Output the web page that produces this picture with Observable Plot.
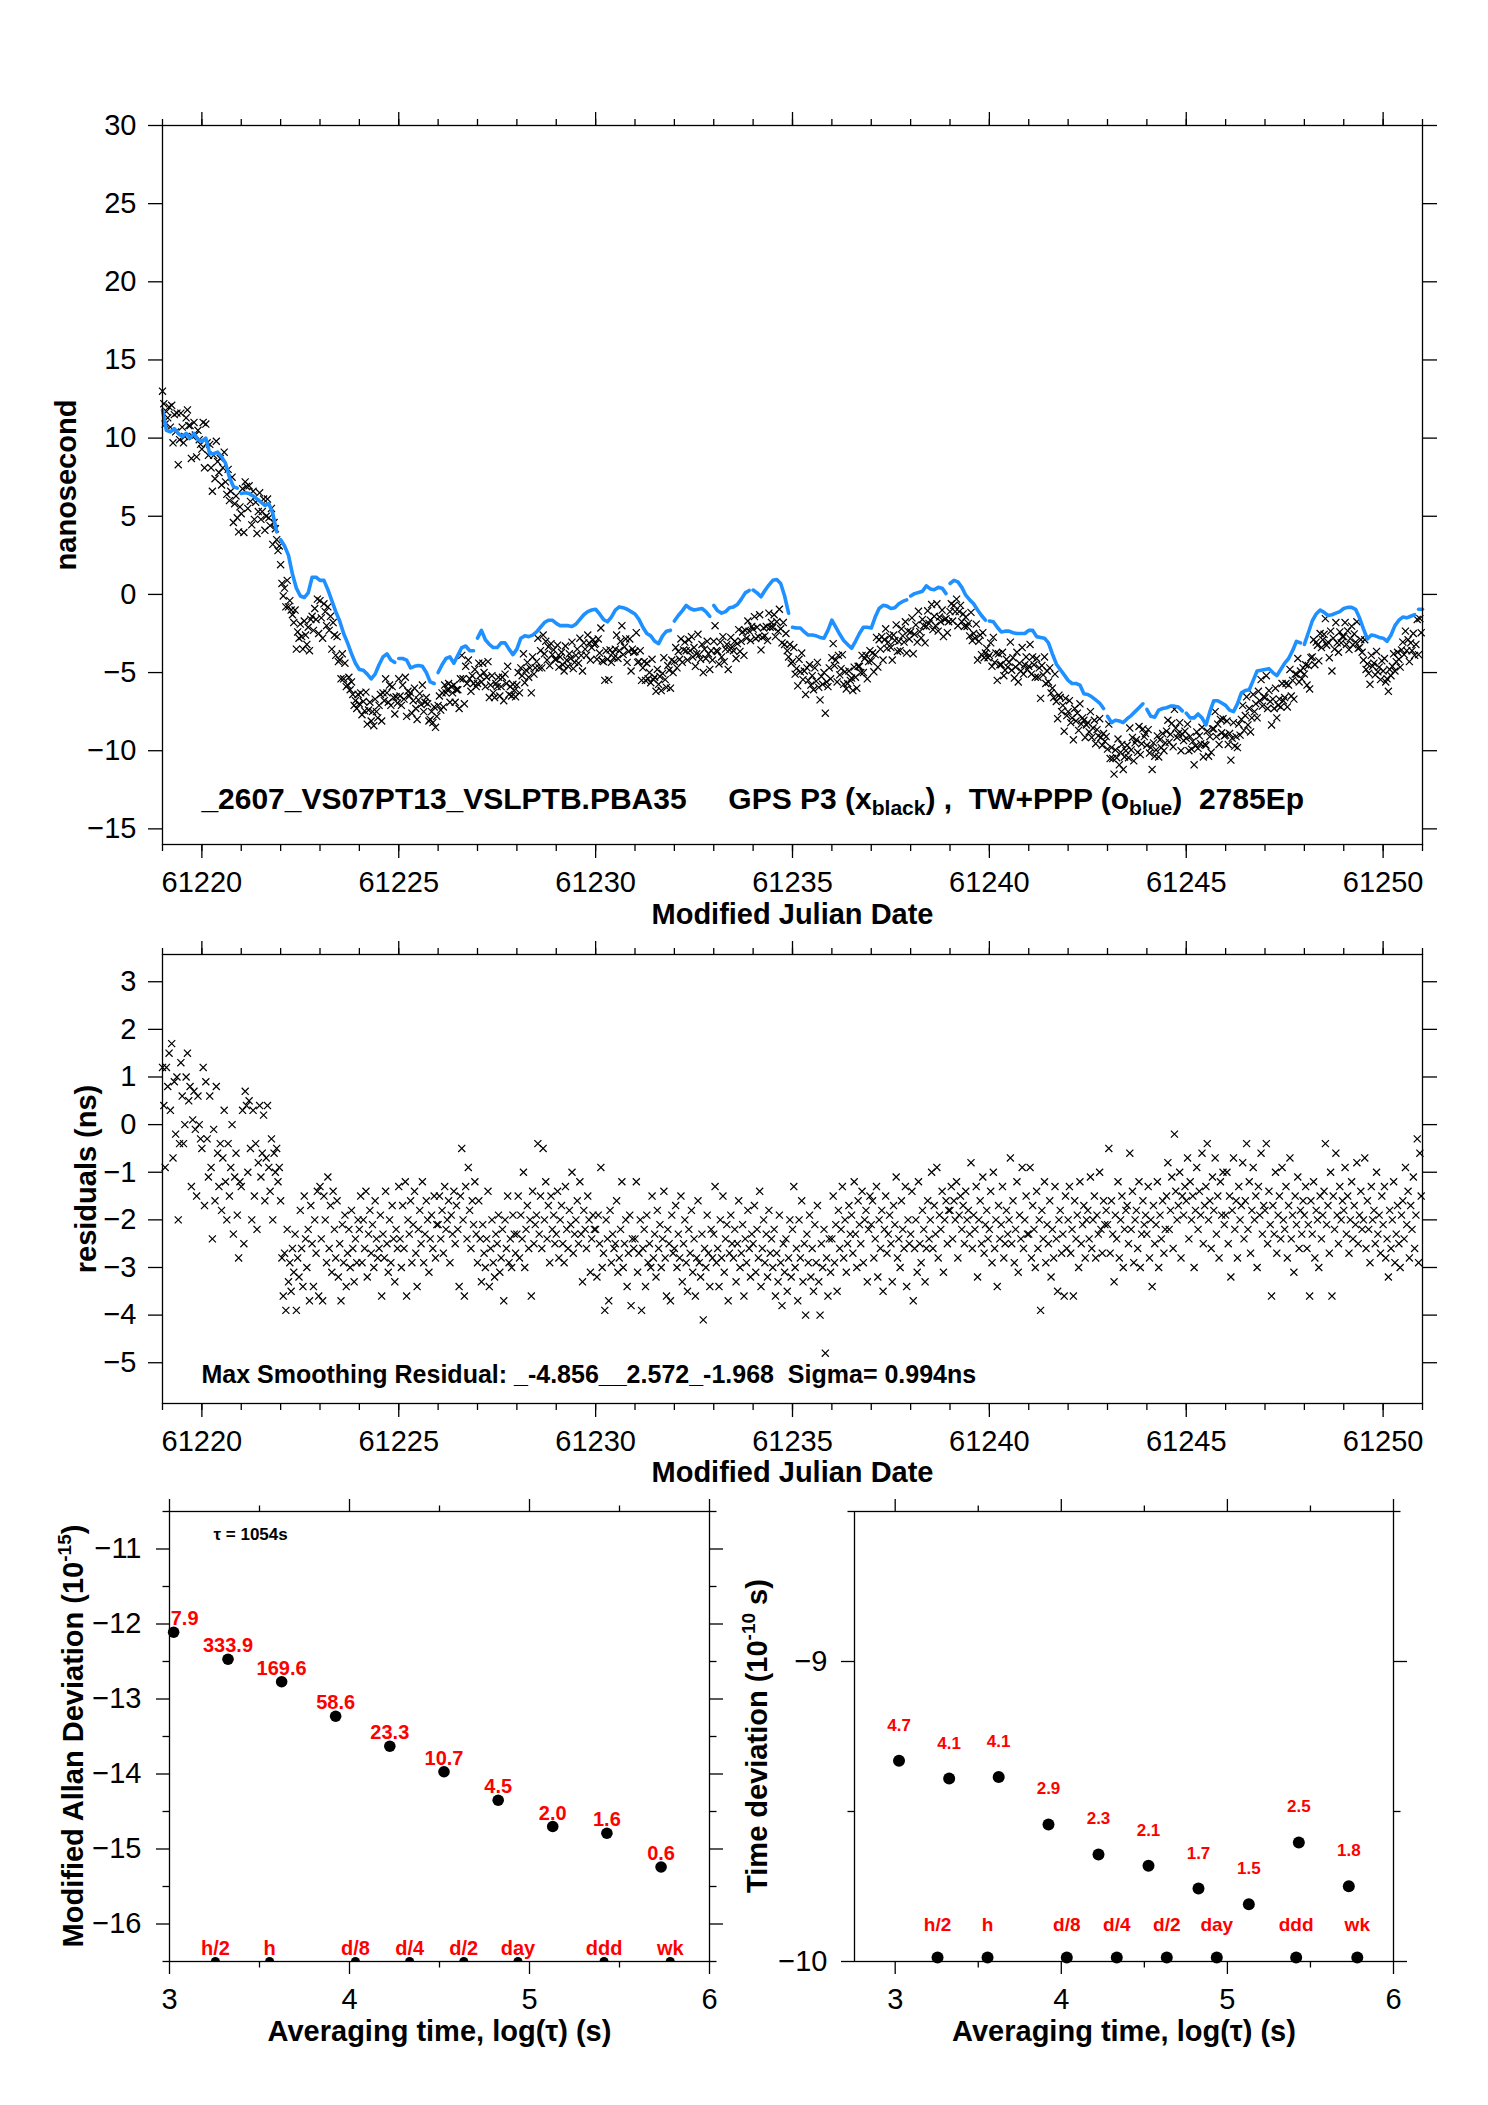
<!DOCTYPE html>
<html><head><meta charset="utf-8">
<script src="https://cdn.jsdelivr.net/npm/d3@7"></script>
<script src="https://cdn.jsdelivr.net/npm/@observablehq/plot@0.6"></script>
<style>
html,body{margin:0;padding:0;background:#fff;}
#page{position:relative;width:1488px;height:2105px;background:#fff;overflow:hidden;}
#page svg{position:absolute;}
</style></head><body><div id="page"></div>
<script>
// ---------------- DATA ----------------
const mjdStart = 61219;
const blueStep = 0.1; // TW+PPP sampled every 0.1 day
const blueNs = [
 11.8, 10.5, 10.4, 10.6, 10.3, 10.1, 10.3, 10.0, 10.3, 9.9,
 9.8, 10.0, 9.0, 9.0, 9.1, 8.8, 8.4, 7.5, 6.9, 6.8,
 6.46, 6.5, 6.45, 6.3, 6.1, 5.9, 5.7, 5.8, 5.2, 4.0,
 3.5, 3.1, 2.5, 1.3, 0.4, -0.1, -0.2, 0.1, 1.1, 1.1,
 0.9, 0.9, 0.3, -0.4, -1.1, -1.7, -2.5, -3.1, -3.8, -4.4,
 -4.8, -4.85, -5.1, -5.4, -5.1, -4.5, -4.0, -3.8, -4.2, -4.35,
 -4.1, -4.1, -4.2, -4.7, -4.6, -4.55, -4.6, -5.0, -5.6, -5.7,
 -5.0, -4.5, -4.1, -4.0, -4.4, -3.9, -3.4, -3.3, -3.6, -3.6,
 -2.8, -2.3, -2.9, -3.2, -3.4, -3.4, -3.1, -3.1, -3.5, -3.85,
 -3.5, -2.8, -2.65, -2.7, -2.6, -2.4, -2.1, -1.8, -1.65, -1.65,
 -1.85, -2.0, -2.0, -2.0, -2.05, -1.9, -1.6, -1.3, -1.1, -1.0,
 -0.95, -1.25, -1.6, -1.75, -1.45, -1.0, -0.8, -0.85, -0.95, -1.1,
 -1.25, -1.6, -2.1, -2.5, -2.65, -3.0, -3.15, -2.65, -2.35, -2.3,
 -1.7, -1.35, -1.05, -0.7, -0.9, -1.0, -0.95, -0.9, -1.1, -1.4,
 -0.7, -1.05, -1.2, -1.1, -0.85, -0.8, -0.65, -0.3, 0.1, 0.25,
 0.28, 0.1, -0.15, 0.25, 0.6, 0.9, 0.95, 0.7, -0.1, -1.2,
 -2.1, -2.15, -2.15, -2.4, -2.6, -2.6, -2.65, -2.75, -2.8, -2.3,
 -1.65, -2.1, -2.55, -2.95, -3.2, -3.45, -3.0, -2.5, -2.1, -2.1,
 -2.15, -1.45, -0.9, -0.7, -0.75, -0.9, -0.85, -0.6, -0.45, -0.35,
 -0.1, 0.05, 0.12, 0.2, 0.55, 0.35, 0.3, 0.45, 0.4, 0.05,
 0.7, 0.9, 0.8, 0.45, -0.05, -0.35, -0.6, -1.0, -1.35, -1.65,
 -1.7, -1.75, -2.1, -2.4, -2.35, -2.35, -2.45, -2.5, -2.5, -2.5,
 -2.3, -2.3, -2.7, -2.75, -2.8, -3.1, -3.8, -4.45, -4.8, -5.15,
 -5.5, -5.7, -5.7, -5.8, -6.35, -6.4, -6.55, -6.75, -6.95, -7.3,
 -7.8, -8.2, -8.05, -8.1, -8.2, -7.95, -7.75, -7.5, -7.25, -7.0,
 -7.35, -7.8, -7.85, -7.4, -7.3, -7.25, -7.15, -7.15, -7.2, -7.45,
 -7.6, -7.9, -7.9, -7.65, -7.9, -8.35, -7.5, -6.8, -6.8, -6.95,
 -7.1, -7.4, -7.5, -7.0, -6.3, -6.15, -6.1, -5.5, -4.9, -4.85,
 -4.8, -4.75, -5.0, -5.2, -4.8, -4.4, -4.1, -3.6, -3.0, -3.1,
 -3.2, -2.45, -1.7, -1.25, -1.0, -1.15, -1.35, -1.3, -1.2, -1.1,
 -0.9, -0.83, -0.83, -0.95, -1.5, -2.2, -2.85, -2.6, -2.65, -2.75,
 -2.8, -3.0, -2.6, -2.0, -1.65, -1.45, -1.5, -1.4, -1.3, -0.95,
 -0.95
];
// MJD where a new TW+PPP segment starts (gaps in the blue trace)
const blueBreaks = [61221, 61222, 61225, 61226, 61227, 61232, 61233, 61234, 61235,
  61238, 61239, 61240, 61243, 61244, 61245, 61248, 61250.9];

// residuals GPS P3 - TW+PPP (ns), 30 per day from MJD 61219
const residNs = [
 1.2,0.4,-0.9,1.2,0.8,1.5,0.3,1.7,-0.7,0.9,-0.2,1.0,-2.0,-0.4,1.3, 0.6,-0.4,0.0,1.0,1.5,0.5,0.8,-1.3,0.1,0.7,-0.1,-1.5,0.6,0.0,-0.3,
 -0.5,1.2,-1.7,0.9,-0.3,-1.1,0.6,-0.9,-2.4,-0.1,-1.6,0.8,-0.6,-1.3,-0.4, -1.8,-0.7,0.3,-1.2,-2.0,-0.4,-1.5,-0.9,0.0,-2.3,-1.1,-0.6,-1.9,-2.8,-1.2,
 -1.3,0.3,-2.5,0.7,0.4,-1.0,0.5,-0.5,-2.0,0.3,-1.5,-0.4,-2.2,-0.8,0.4, -1.1,-0.6,0.2,-1.6,-0.7,0.4,-0.9,-1.4,-0.3,-2.0,-0.6,-1.0,-0.5,-1.2,-0.9,
 -1.6,-2.8,-3.6,-2.7,-3.9,-2.2,-3.3,-2.9,-3.5,-2.6,-3.1,-2.3,-3.9,-2.8,-3.2, -1.8,-2.6,-3.4,-1.5,-2.4,-3.0,-2.2,-3.7,-1.7,-2.5,-3.4,-2.0,-2.7,-1.4,-3.6,
 -1.3,-2.4,-3.7,-1.5,-2.0,-2.9,-1.1,-2.6,-1.7,-3.1,-1.4,-2.2,-2.8,-1.6,-3.2, -2.5,-3.7,-2.1,-2.9,-1.9,-3.4,-2.7,-2.2,-3.0,-1.8,-2.6,-3.3,-2.4,-2.9,-2.0,
 -2.2,-1.5,-2.9,-2.0,-2.6,-1.4,-3.2,-2.3,-1.8,-2.7,-2.1,-3.0,-1.6,-2.4,-2.8, -2.6,-1.9,-3.6,-2.3,-2.8,-1.4,-2.5,-3.1,-2.0,-2.9,-1.7,-2.4,-3.3,-2.2,-2.6,
 -1.3,-2.4,-3.0,-1.7,-2.6,-1.2,-3.6,-2.0,-2.3,-1.6,-2.9,-2.1,-1.4,-2.7,-3.4, -2.2,-1.8,-2.5,-1.2,-2.9,-2.3,-1.6,-2.0,-3.1,-2.4,-1.9,-2.6,-1.5,-2.8,-2.1,
 -2.1,-1.5,-2.4,-1.8,-2.7,-1.3,-2.2,-2.0,-1.6,-2.9,-1.9,-2.3,-1.4,-2.5,-1.7, -2.2,-3.4,-1.5,-0.5,-2.0,-3.6,-1.3,-2.4,-0.9,-1.8,-2.6,-1.6,-2.1,-1.2,-2.3,
 -2.9,-1.6,-2.4,-3.3,-2.1,-2.7,-3.0,-2.4,-1.4,-3.4,-2.6,-2.0,-2.9,-3.2,-2.3, -2.5,-1.9,-3.1,-2.8,-2.2,-3.7,-2.0,-2.6,-1.5,-2.9,-2.4,-3.0,-1.9,-2.3,-2.7,
 -2.3,-1.5,-2.8,-1.9,-2.4,-1.0,-3.0,-2.2,-1.7,-2.6,-2.0,-3.6,-1.4,-2.5,-2.1, -1.9,-0.4,-2.3,-1.5,-2.6,-0.5,-2.0,-1.2,-2.4,-1.7,-2.9,-1.5,-2.2,-1.9,-2.5,
 -2.3,-1.4,-2.8,-2.0,-1.7,-2.5,-2.9,-1.3,-2.2,-2.6,-1.8,-2.1,-1.0,-2.7,-2.3, -2.0,-1.6,-2.5,-1.2,-2.3,-3.3,-1.8,-2.2,-2.6,-1.5,-2.0,-3.1,-2.4,-1.9,-2.2,
 -2.2,-3.2,-1.9,-2.5,-0.9,-3.0,-2.7,-3.9,-2.0,-2.4,-3.7,-1.8,-2.9,-2.3,-2.6, -2.5,-1.6,-3.1,-2.8,-2.2,-1.2,-3.0,-2.5,-2.0,-3.4,-2.7,-1.9,-3.8,-2.4,-2.6,
 -2.4,-1.2,-3.1,-2.7,-2.0,-3.9,-2.6,-2.2,-3.4,-1.9,-2.9,-2.5,-3.0,-1.5,-2.8, -2.3,-3.2,-1.8,-2.6,-2.1,-3.0,-2.4,-1.4,-2.8,-3.6,-2.2,-2.5,-3.7,-1.9,-2.7,
 -2.6,-1.7,-3.0,-2.3,-2.8,-1.5,-3.3,-2.5,-2.0,-2.9,-3.5,-2.2,-2.7,-1.8,-3.1, -2.4,-3.6,-2.8,-1.6,-2.9,-3.2,-2.3,-4.1,-2.6,-3.0,-1.9,-2.7,-3.4,-2.2,-2.8,
 -2.3,-1.3,-2.9,-2.6,-3.4,-2.0,-2.8,-1.5,-3.1,-2.4,-2.1,-3.7,-2.7,-1.9,-2.5, -2.8,-2.2,-3.3,-2.5,-1.6,-3.0,-2.7,-2.1,-3.6,-2.4,-2.9,-1.8,-2.6,-3.2,-2.3,
 -2.5,-1.7,-3.1,-2.2,-2.8,-1.4,-3.4,-2.6,-2.0,-2.9,-2.3,-3.2,-1.8,-2.7,-2.4, -3.0,-2.2,-3.6,-2.7,-3.3,-1.9,-2.9,-3.8,-2.5,-3.1,-2.4,-3.5,-2.8,-2.0,-3.2,
 -2.2,-1.3,-3.0,-2.6,-3.7,-2.0,-2.8,-1.6,-3.3,-2.5,-4.0,-2.3,-2.9,-1.9,-3.2, -2.6,-3.5,-2.1,-2.9,-1.7,-3.3,-4.0,-2.5,-3.0,-2.2,-4.8,-2.8,-3.6,-2.4,-3.1,
 -2.4,-1.5,-2.9,-2.1,-3.5,-1.8,-2.6,-2.2,-1.3,-2.8,-2.0,-3.1,-2.5,-1.7,-2.3, -1.9,-2.7,-1.2,-2.3,-3.0,-1.6,-2.1,-2.5,-1.4,-2.9,-2.0,-1.8,-3.3,-2.2,-1.5,
 -2.1,-1.6,-2.8,-2.4,-1.3,-3.2,-2.0,-2.6,-1.8,-3.5,-2.2,-1.5,-2.7,-2.3,-1.9, -2.5,-3.3,-1.7,-2.1,-1.1,-2.8,-2.4,-3.0,-1.6,-2.2,-2.6,-1.3,-3.4,-2.0,-2.5,
 -2.3,-1.4,-3.7,-2.6,-2.0,-3.1,-1.2,-2.5,-2.9,-1.8,-2.2,-3.3,-2.6,-1.6,-2.4, -2.0,-1.0,-2.6,-1.7,-2.3,-0.9,-2.8,-1.9,-2.2,-1.4,-3.1,-2.0,-1.6,-2.5,-1.8,
 -1.8,-1.3,-2.4,-1.6,-2.0,-1.2,-2.8,-1.9,-1.5,-2.2,-1.7,-2.5,-1.4,-2.0,-1.8, -2.3,-0.8,-2.6,-1.9,-2.2,-1.3,-3.2,-2.0,-1.6,-2.5,-1.1,-2.7,-2.1,-1.8,-2.4,
 -2.2,-1.4,-2.9,-1.0,-2.6,-2.0,-3.4,-1.7,-2.4,-2.1,-1.3,-2.8,-2.5,-1.8,-2.3, -2.0,-0.7,-2.5,-1.6,-2.9,-2.2,-1.2,-3.1,-1.9,-2.4,-0.9,-2.6,-2.0,-1.5,-2.3,
 -2.3,-0.9,-2.8,-1.7,-2.2,-3.0,-1.4,-2.6,-2.0,-3.9,-1.8,-2.4,-1.2,-2.9,-2.1, -2.5,-1.6,-3.2,-2.2,-2.8,-1.3,-2.4,-3.5,-2.0,-1.8,-2.7,-2.3,-3.6,-1.5,-2.6,
 -2.0,-1.3,-2.7,-2.2,-3.6,-1.6,-2.4,-1.9,-3.0,-1.2,-2.5,-2.1,-1.7,-2.8,-2.0, -1.8,-2.4,-1.1,-2.6,-2.0,-1.5,-2.8,-1.9,-2.3,-1.0,-2.2,-2.7,-1.6,-2.1,-1.8,
 -2.1,-0.5,-2.7,-1.6,-2.3,-3.3,-1.9,-2.4,-1.2,-2.8,-2.0,-1.5,-3.0,-2.2,-1.8, -1.7,-2.5,-0.6,-2.2,-1.4,-2.9,-2.0,-1.8,-2.6,-1.2,-3.0,-2.3,-1.6,-2.1,-1.9,
 -2.3,-1.3,-2.8,-2.0,-3.4,-1.7,-2.5,-2.1,-1.2,-3.0,-1.9,-2.4,-1.6,-2.7,-2.2, -1.5,-0.8,-2.2,-1.8,-1.1,-2.6,-0.2,-1.4,-2.0,-1.7,-1.0,-2.8,-1.5,-1.9,-1.3,
 -1.6,-0.7,-2.4,-1.2,-2.0,-1.5,-3.0,-1.8,-0.9,-2.2,-1.4,-1.9,-0.6,-2.5,-1.7, -1.3,-0.4,-2.0,-1.6,-2.6,-1.1,-1.8,-0.7,-2.3,-1.5,-2.8,-1.2,-1.9,-1.0,-2.1,
 -1.9,-1.0,-2.5,-1.5,-3.2,-1.8,-0.7,-2.2,-1.6,-2.8,-1.3,-2.0,-1.7,-0.8,-2.4, -1.6,-0.4,-2.2,-1.2,-2.7,-1.8,-0.9,-2.0,-1.5,-3.0,-1.3,-1.9,-0.6,-2.3,-1.7,
 -1.8,-0.4,-2.5,-1.4,-2.1,-3.6,-1.7,-2.3,-1.0,-2.7,-1.9,-1.5,-2.4,-0.9,-2.0, -2.2,-1.3,-2.8,-1.7,-0.7,-2.4,-1.9,-3.1,-1.5,-2.1,-1.1,-2.6,-1.8,-2.3,-1.6,
 -1.9,-1.3,-2.6,-2.1,-3.6,-1.6,-2.3,-1.2,-2.8,-1.8,-2.0,-3.0,-1.5,-2.4,-1.9, -1.4,-0.4,-2.1,-1.7,-2.7,-1.0,-3.6,-1.5,-2.2,-0.6,-1.9,-2.5,-1.3,-2.0,-1.6,
 -1.8,-0.9,-2.3,-1.5,-2.7,-2.0,-1.2,-2.4,-1.7,-2.1,-0.8,-2.5,-1.9,-1.4,-2.2, -2.0,-0.7,-2.6,-1.6,-2.2,-2.9,-1.3,-2.0,-1.8,-2.5,-1.0,-2.3,-1.9,-2.7,-1.5,
 -2.1,-1.3,-2.8,-2.4,-3.2,-1.8,-2.6,-2.0,-1.2,-2.9,-2.3,-1.7,-2.5,-3.0,-1.9, -1.6,-2.4,-0.9,-2.1,-1.4,-2.8,-1.7,-2.2,-1.1,-2.6,-1.9,-0.3,-2.9,-0.6,-1.5
];
const residPerDay = 30;

const mjdMajorTicks = [61220, 61225, 61230, 61235, 61240, 61245, 61250];
const mjdMinorTicks = d3.range(61219, 61252);
const nsTicks = [-15, -10, -5, 0, 5, 10, 15, 20, 25, 30];
const residTicks = [-5, -4, -3, -2, -1, 0, 1, 2, 3];

// stability (log10 tau)
const logTau = [3.023, 3.325, 3.623, 3.923, 4.224, 4.525, 4.826, 5.129, 5.430, 5.731];
const mdevLog = [-12.11, -12.47, -12.77, -13.23, -13.63, -13.97, -14.35, -14.70, -14.79, -15.24];
const mdevLabels = ["7.9", "333.9", "169.6", "58.6", "23.3", "10.7", "4.5", "2.0", "1.6", "0.6"];
const tdevLog = [-9.331, -9.390, -9.385, -9.543, -9.643, -9.681, -9.757, -9.809, -9.603, -9.749];
const tdevLabels = ["4.7", "4.1", "4.1", "2.9", "2.3", "2.1", "1.7", "1.5", "2.5", "1.8"];
const tauNames = ["h/2", "h", "d/8", "d/4", "d/2", "day", "ddd", "wk"];
const tauNameLog = [3.255, 3.556, 4.033, 4.334, 4.635, 4.936, 5.414, 5.782];

// ---------------- TABLES ----------------
const blueRows = blueNs.map((v, i) => {
  const t = Math.round((mjdStart + i * blueStep) * 10) / 10;
  return {t, v, seg: blueBreaks.filter(b => b <= t + 1e-9).length};
});
const gpsRows = residNs.map((r, n) => {
  const day = Math.floor(n / residPerDay), m = n % residPerDay;
  const t = mjdStart + day + m / residPerDay;
  const base = blueNs[day * 10 + Math.floor(m / 3)];
  return {t, r, gps: base + r};
});
const mdevRows = logTau.map((x, i) => ({x, y: mdevLog[i], label: mdevLabels[i]}));
const tdevRows = logTau.map((x, i) => ({x, y: tdevLog[i], label: tdevLabels[i]}));
const tauRows = tauNames.map((name, i) => ({name, x: tauNameLog[i]}));

// ---------------- HELPERS ----------------
const FONT = "'Liberation Sans', Arial, Helvetica, sans-serif";
const STYLE = `background:transparent;overflow:visible;max-width:none;font-family:${FONT};font-size:29px;color:black;`;
const fmt = d3.format("d");
const none = () => "";
const SW = 1.3;

function box({xMajor, xMinor, yMajor, yMinor, size = 14, small = 7, xPad = 13, yPad = 12}) {
  const m = [Plot.frame({stroke: "black", strokeWidth: SW})];
  m.push(Plot.axisX({ticks: xMajor, anchor: "bottom", tickSize: size, tickPadding: xPad, tickFormat: fmt, label: null, strokeWidth: SW}));
  m.push(Plot.axisX({ticks: xMajor, anchor: "top", tickSize: size, tickFormat: none, label: null, strokeWidth: SW}));
  m.push(Plot.axisY({ticks: yMajor, anchor: "left", tickSize: size, tickPadding: yPad, tickFormat: fmt, label: null, strokeWidth: SW}));
  m.push(Plot.axisY({ticks: yMajor, anchor: "right", tickSize: size, tickFormat: none, label: null, strokeWidth: SW}));
  if (xMinor) {
    m.push(Plot.axisX({ticks: xMinor, anchor: "bottom", tickSize: small, tickFormat: none, label: null, strokeWidth: SW}));
    m.push(Plot.axisX({ticks: xMinor, anchor: "top", tickSize: small, tickFormat: none, label: null, strokeWidth: SW}));
  }
  if (yMinor) {
    m.push(Plot.axisY({ticks: yMinor, anchor: "left", tickSize: small, tickFormat: none, label: null, strokeWidth: SW}));
    m.push(Plot.axisY({ticks: yMinor, anchor: "right", tickSize: small, tickFormat: none, label: null, strokeWidth: SW}));
  }
  return m;
}
// centered axis titles
function xTitle(text, dy) {
  return Plot.text([text], {text: d => d, frameAnchor: "bottom", textAnchor: "middle", lineAnchor: "middle", dy, fontWeight: "bold", fontSize: 29});
}
function yTitle(text, dx) {
  return Plot.text([text], {text: d => d, frameAnchor: "left", textAnchor: "middle", lineAnchor: "middle", dx, rotate: -90, fontWeight: "bold", fontSize: 29});
}
function place(svg, left, top) {
  svg.style.position = "absolute";
  svg.style.left = left + "px";
  svg.style.top = top + "px";
  document.getElementById("page").appendChild(svg);
}
function rotLabel(svg, cx, cy, main, sup, tail) {
  const t = d3.select(svg).append("text")
    .attr("transform", `translate(${cx},${cy}) rotate(-90)`)
    .attr("text-anchor", "middle").attr("font-family", FONT)
    .attr("font-weight", "bold").attr("font-size", 29).attr("fill", "black").attr("y", 10);
  t.append("tspan").text(main);
  t.append("tspan").attr("font-size", 19).attr("dy", -12).text(sup);
  t.append("tspan").attr("font-size", 29).attr("dy", 12).text(tail);
}
const xSym = d3.symbolTimes;

// ---------------- TOP PANEL ----------------
const topPlot = Plot.plot({
  width: 1488, height: 930, marginLeft: 162, marginRight: 66, marginTop: 125, marginBottom: 86,
  style: STYLE,
  x: {domain: [61219, 61251]},
  y: {domain: [-16, 30]},
  marks: [
    Plot.dot(gpsRows, {x: "t", y: "gps", symbol: xSym, r: 3.3, stroke: "black", strokeWidth: 1.2, fill: "none"}),
    Plot.line(blueRows, {x: "t", y: "v", z: "seg", stroke: "#1e90ff", strokeWidth: 3.6}),
    ...box({xMajor: mjdMajorTicks, xMinor: mjdMinorTicks, yMajor: nsTicks}),
    yTitle("nanosecond", -96),
    xTitle("Modified Julian Date", 70)
  ]
});
place(topPlot, 0, 0);
{
  const sx = topPlot.scale("x"), sy = topPlot.scale("y");
  const t = d3.select(topPlot).append("text")
    .attr("x", sx.apply(61220)).attr("y", sy.apply(-13.75))
    .attr("text-anchor", "start")
    .attr("font-family", FONT).attr("font-weight", "bold").attr("font-size", 30).attr("fill", "black")
    .style("white-space", "pre");
  t.append("tspan").text("_2607_VS07PT13_VSLPTB.PBA35     GPS P3 (x");
  t.append("tspan").attr("font-size", 21).attr("dy", 6).text("black");
  t.append("tspan").attr("dy", -6).text(") ,  TW+PPP (o");
  t.append("tspan").attr("font-size", 21).attr("dy", 6).text("blue");
  t.append("tspan").attr("dy", -6).text(")  2785Ep");
}

// ---------------- MIDDLE PANEL ----------------
const midPlot = Plot.plot({
  width: 1488, height: 560, marginLeft: 162, marginRight: 66, marginTop: 24, marginBottom: 87,
  style: STYLE,
  x: {domain: [61219, 61251]},
  y: {domain: [-5.856, 3.572]},
  marks: [
    Plot.dot(gpsRows, {x: "t", y: "r", symbol: xSym, r: 3.3, stroke: "black", strokeWidth: 1.2, fill: "none"}),
    ...box({xMajor: mjdMajorTicks, xMinor: mjdMinorTicks, yMajor: residTicks}),
    Plot.text(["Max Smoothing Residual: _-4.856__2.572_-1.968  Sigma= 0.994ns"],
      {text: d => d, frameAnchor: "bottom-left", textAnchor: "start", lineAnchor: "bottom", dx: 39, dy: -21, fontWeight: "bold", fontSize: 25}),
    yTitle("residuals (ns)", -76),
    xTitle("Modified Julian Date", 69)
  ]
});
place(midPlot, 0, 930);

// ---------------- BOTTOM LEFT: MDEV ----------------
const mdevPlot = Plot.plot({
  width: 744, height: 665, marginLeft: 169, marginRight: 35, marginTop: 71, marginBottom: 144,
  style: STYLE,
  x: {domain: [3, 6]},
  y: {domain: [-16.5, -10.5]},
  marks: [
    Plot.dot(tauRows, {x: "x", y: () => -16.5, r: 4.5, fill: "black", clip: true}),
    Plot.text(tauRows, {x: "x", y: () => -16.5, text: "name", textAnchor: "middle", dy: -7, lineAnchor: "bottom", fill: "red", fontWeight: "bold", fontSize: 20}),
    Plot.dot(mdevRows, {x: "x", y: "y", r: 5.8, fill: "black"}),
    Plot.text(mdevRows.slice(0, 1), {x: "x", y: "y", text: "label", textAnchor: "middle", dx: 11, dy: -7, lineAnchor: "bottom", fill: "red", fontWeight: "bold", fontSize: 20}),
    Plot.text(mdevRows.slice(1), {x: "x", y: "y", text: "label", textAnchor: "middle", dy: -7, lineAnchor: "bottom", fill: "red", fontWeight: "bold", fontSize: 20}),
    ...box({xMajor: [3, 4, 5, 6], xMinor: [3.5, 4.5, 5.5], yMajor: [-16, -15, -14, -13, -12, -11],
      yMinor: [-16.5, -15.5, -14.5, -13.5, -12.5, -11.5, -10.5], size: 13, small: 6.5, xPad: 14, yPad: 15}),
    Plot.text(["\u03c4 = 1054s"], {text: d => d, frameAnchor: "top-left", textAnchor: "start", lineAnchor: "bottom", dx: 44, dy: 28, fontWeight: "bold", fontSize: 17}),
    xTitle("Averaging time, log(\u03c4) (s)", 70)
  ]
});
place(mdevPlot, 0, 1440);
rotLabel(mdevPlot, 169 - 96, 71 + 225, "Modified Allan Deviation (10", "-15", ")");

// ---------------- BOTTOM RIGHT: TDEV ----------------
const tdevPlot = Plot.plot({
  width: 744, height: 665, marginLeft: 110, marginRight: 95, marginTop: 71, marginBottom: 144,
  style: STYLE,
  x: {domain: [2.755, 6]},
  y: {domain: [-10, -8.5]},
  marks: [
    Plot.dot(tauRows, {x: "x", y: () => -10, r: 6, dy: -4, fill: "black"}),
    Plot.text(tauRows, {x: "x", y: () => -10, text: "name", textAnchor: "middle", dy: -31, lineAnchor: "bottom", fill: "red", fontWeight: "bold", fontSize: 19}),
    Plot.dot(tdevRows, {x: "x", y: "y", r: 6, fill: "black"}),
    Plot.text(tdevRows, {x: "x", y: "y", text: "label", textAnchor: "middle", dy: -30, lineAnchor: "bottom", fill: "red", fontWeight: "bold", fontSize: 17}),
    ...box({xMajor: [3, 4, 5, 6], xMinor: [3.5, 4.5, 5.5], yMajor: [-10, -9], yMinor: [-9.5, -8.5],
      size: 13, small: 6.5, xPad: 14, yPad: 14}),
    xTitle("Averaging time, log(\u03c4) (s)", 70)
  ]
});
place(tdevPlot, 744, 1440);
rotLabel(tdevPlot, 110 - 97, 71 + 225, "Time deviation (10", "-10", " s)");
</script></body></html>
